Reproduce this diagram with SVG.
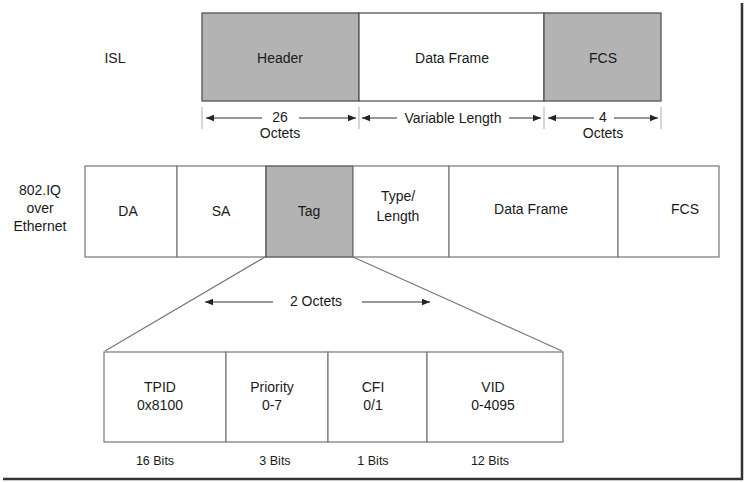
<svg xmlns="http://www.w3.org/2000/svg" width="745" height="482" viewBox="0 0 745 482">
<defs>
<marker id="ah" viewBox="0 0 10 10" refX="10" refY="5" markerWidth="8" markerHeight="8" markerUnits="userSpaceOnUse" orient="auto-start-reverse">
<path d="M0,1 L10,5 L0,9 Z" fill="#222"/>
</marker>
<style>
text{font-family:"Liberation Sans",Arial,sans-serif;font-size:14px;fill:#1a1a1a;text-anchor:middle}
.b{stroke:#555;stroke-width:1.3}
.l{stroke:#777;stroke-width:1.2;fill:none}
.g{fill:#b3b3b3}
.w{fill:#fff}
.a{stroke:#333;stroke-width:1;fill:none}
.t{stroke:#bbb;stroke-width:1.2}
.s{font-size:12.5px}
</style>
</defs>
<rect width="745" height="482" fill="#fff"/>
<g id="frame">
<line x1="742" y1="3" x2="742" y2="480" stroke="#333" stroke-width="2.5"/>
<line x1="3" y1="479" x2="743" y2="479" stroke="#333" stroke-width="2.5"/>
</g>
<g id="isl">
<text x="115" y="63">ISL</text>
<g id="isl-header"><rect x="202" y="13" width="157" height="88" class="b g"/><text x="280" y="63">Header</text></g>
<g id="isl-data"><rect x="359" y="13" width="185" height="88" class="b w"/><text x="452" y="63">Data Frame</text></g>
<g id="isl-fcs"><rect x="544" y="13" width="117" height="88" class="b g"/><text x="603" y="63">FCS</text></g>
</g>
<g id="isl-dims">
<line x1="202" y1="107" x2="202" y2="129" class="t"/>
<line x1="359" y1="107" x2="359" y2="129" class="t"/>
<line x1="544" y1="107" x2="544" y2="129" class="t"/>
<line x1="661" y1="107" x2="661" y2="129" class="t"/>
<line x1="262" y1="118" x2="206" y2="118" class="a" marker-end="url(#ah)"/>
<line x1="299" y1="118" x2="356" y2="118" class="a" marker-end="url(#ah)"/>
<text x="280" y="122">26</text><text x="280" y="138">Octets</text>
<line x1="397" y1="118" x2="362" y2="118" class="a" marker-end="url(#ah)"/>
<line x1="509" y1="118" x2="541" y2="118" class="a" marker-end="url(#ah)"/>
<text x="453" y="123">Variable Length</text>
<line x1="594" y1="118" x2="548" y2="118" class="a" marker-end="url(#ah)"/>
<line x1="614" y1="118" x2="658" y2="118" class="a" marker-end="url(#ah)"/>
<text x="603" y="122">4</text><text x="603" y="138">Octets</text>
</g>
<g id="dot1q">
<text x="40" y="195">802.IQ</text><text x="40" y="213">over</text><text x="40" y="231">Ethernet</text>
<g id="q-da"><rect x="85" y="166" width="92" height="91" class="l w"/><text x="128" y="216">DA</text></g>
<g id="q-sa"><rect x="177" y="166" width="89" height="91" class="l w"/><text x="221" y="216">SA</text></g>
<g id="q-tag"><rect x="266" y="166" width="87" height="91" class="b g"/><text x="309" y="216">Tag</text></g>
<g id="q-type"><rect x="353" y="166" width="96" height="91" class="l w"/><text x="398" y="201">Type/</text><text x="398" y="221">Length</text></g>
<g id="q-data"><rect x="449" y="166" width="169" height="91" class="l w"/><text x="531" y="214">Data Frame</text></g>
<g id="q-fcs"><rect x="618" y="166" width="101" height="91" class="l w"/><text x="685" y="214">FCS</text></g>
</g>
<g id="connectors">
<line x1="265" y1="257" x2="105" y2="351" class="l"/>
<line x1="353" y1="257" x2="562" y2="351" class="l"/>
<line x1="273" y1="302" x2="205" y2="302" class="a" marker-end="url(#ah)"/>
<line x1="362" y1="302" x2="430" y2="302" class="a" marker-end="url(#ah)"/>
<text x="316" y="306">2 Octets</text>
</g>
<g id="tag-fields">
<g id="f-tpid"><rect x="104" y="352" width="122" height="90" class="l w"/><text x="160" y="392">TPID</text><text x="160" y="410">0x8100</text></g>
<g id="f-pri"><rect x="226" y="352" width="102" height="90" class="l w"/><text x="272" y="392">Priority</text><text x="272" y="410">0-7</text></g>
<g id="f-cfi"><rect x="328" y="352" width="99" height="90" class="l w"/><text x="373" y="392">CFI</text><text x="373" y="410">0/1</text></g>
<g id="f-vid"><rect x="427" y="352" width="136" height="90" class="l w"/><text x="493" y="392">VID</text><text x="493" y="410">0-4095</text></g>
<text x="155" y="465" class="s">16 Bits</text>
<text x="275" y="465" class="s">3 Bits</text>
<text x="373" y="465" class="s">1 Bits</text>
<text x="490" y="465" class="s">12 Bits</text>
</g>
</svg>
